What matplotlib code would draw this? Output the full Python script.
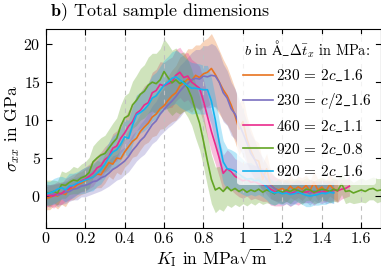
import numpy as np
import matplotlib
matplotlib.use("Agg")
import matplotlib.pyplot as plt
from matplotlib.ticker import FuncFormatter

plt.rcParams['font.family'] = ['cmr10', 'DejaVu Serif']
plt.rcParams['mathtext.fontset'] = 'cm'
plt.rcParams['axes.formatter.use_mathtext'] = True
plt.rcParams['axes.unicode_minus'] = False

# stress over K_I, mean and std per sample (step 0.02)
k_step = 0.02

labels = [r"$230\,=\,2c\_1.6$", r"$230\,=\,c/2\_1.6$", r"$460\,=\,2c\_1.1$",
          r"$920\,=\,2c\_0.8$", r"$920\,=\,2c\_1.6$"]
colors = ['#e8731f', '#7a6fc0', '#ea2a8c', '#63a524', '#14b2ee']

orange_mean = [-0.3, -0.2, 0.1, 0.0, 0.4, 0.2, 0.9, 1.0, 1.5, 1.7, 2.0,
               2.3, 2.5, 2.9, 2.8, 3.6, 4.4, 4.2, 5.0, 4.9, 5.8,
               6.5, 7.2, 7.6, 8.5, 9.1, 9.6, 10.4, 10.8, 11.5, 11.9,
               12.6, 13.2, 13.6, 14.5, 14.9, 15.4, 15.2, 15.9, 15.6, 16.1,
               16.3, 16.8, 16.0, 15.0, 14.0, 13.2, 12.0, 10.6, 8.8, 9.8,
               7.5, 6.0, 4.8, 4.6, 2.2, 3.6, 1.5, 1.0, 0.8, 1.0,
               0.6, 1.3, 0.8, 1.2, 0.9, 1.4, 0.7, 1.8, 0.8, 1.2, 0.6, 1.5, 0.9, 0.7]
orange_std = [1.5, 1.6, 1.4, 1.7, 1.5, 1.6, 1.4, 1.5, 1.6, 1.5, 1.6,
              1.7, 1.6, 1.8, 1.7, 1.9, 1.8, 2.0, 1.9, 2.1, 2.0,
              2.2, 2.1, 2.3, 2.4, 2.3, 2.5, 2.6, 2.8, 2.7, 3.0,
              3.2, 3.4, 3.6, 3.8, 3.7, 4.0, 4.2, 4.0, 4.3, 4.4,
              4.5, 4.6, 4.4, 4.2, 4.0, 3.8, 3.6, 3.5, 3.4, 3.2,
              3.0, 2.8, 2.6, 2.4, 2.2, 2.0, 1.8, 1.6, 1.5, 1.4,
              1.4, 1.5, 1.3, 1.4, 1.5, 1.4, 1.3, 1.5, 1.4, 1.3, 1.4, 1.5, 1.3, 1.4]

purple_mean = [0.2, 0.0, 0.3, 0.1, 0.3, 0.5, 0.6, 0.9, 1.0, 1.3, 1.4,
               1.6, 1.9, 2.0, 2.4, 2.6, 3.0, 3.5, 3.8, 4.2, 4.6,
               5.2, 6.0, 6.6, 7.3, 7.8, 8.6, 9.4, 9.9, 10.8, 11.4,
               12.0, 12.5, 13.1, 13.8, 14.4, 14.8, 15.3, 15.5, 15.4, 15.8,
               15.7, 15.9, 15.8, 15.0, 13.6, 12.9, 11.5, 10.8, 9.5, 8.3,
               7.0, 5.6, 4.8, 3.6, 3.0, 2.2, 1.4, 1.0, 0.6, 0.4,
               0.7, 0.3, 0.5, 0.8, 0.4, 0.6, 0.3, 0.7, 0.5, 0.8, 0.4, 0.6, 0.5]
purple_std = [1.4, 1.5, 1.3, 1.5, 1.4, 1.5, 1.3, 1.4, 1.5, 1.4, 1.5,
              1.5, 1.6, 1.5, 1.7, 1.6, 1.7, 1.8, 1.7, 1.9, 1.8,
              2.0, 2.1, 2.0, 2.2, 2.3, 2.4, 2.5, 2.6, 2.8, 2.9,
              3.0, 3.1, 3.2, 3.4, 3.3, 3.5, 3.6, 3.8, 3.9, 4.0,
              4.1, 4.2, 4.0, 3.9, 3.8, 3.6, 3.5, 3.3, 3.2, 3.0,
              2.8, 2.6, 2.5, 2.3, 2.1, 2.0, 1.8, 1.6, 1.5, 1.4,
              1.4, 1.3, 1.5, 1.4, 1.3, 1.4, 1.5, 1.3, 1.4, 1.3, 1.4, 1.5, 1.4]

pink_mean = [0.0, 0.1, 0.0, 0.4, 0.3, 0.8, 1.0, 1.4, 1.6, 2.0, 2.2,
             2.6, 3.0, 3.7, 4.0, 4.8, 5.2, 6.3, 6.6, 7.6, 8.3,
             9.2, 9.8, 10.9, 11.3, 12.0, 12.3, 13.6, 13.9, 14.7, 14.5,
             14.8, 15.0, 15.9, 16.3, 15.6, 15.8, 15.0, 14.6, 14.2, 12.5,
             10.5, 8.5, 6.8, 5.0, 3.0, 3.6, 3.2, 2.6, 2.3, 2.0,
             2.2, 1.8, 1.9, 1.6, 1.5, 1.3, 0.9, 0.6, 0.5, 0.4,
             0.6, 0.3, 0.5, 0.4, 0.6, 0.5, 0.7, 0.4, 0.6, 0.5, 0.7, 0.6,
             0.8, 0.7, 0.9, 1.0, 1.3]
pink_std = [1.5, 1.4, 1.6, 1.5, 1.4, 1.5, 1.6, 1.5, 1.4, 1.5, 1.6,
            1.6, 1.7, 1.6, 1.8, 1.7, 1.8, 1.9, 2.0, 1.9, 2.0,
            2.1, 2.2, 2.3, 2.4, 2.5, 2.6, 2.7, 2.8, 3.0, 3.1,
            3.2, 3.3, 3.4, 3.3, 3.2, 3.1, 3.0, 3.0, 2.9, 2.8,
            2.8, 2.7, 2.6, 2.5, 2.4, 2.5, 2.4, 2.3, 2.4, 2.3,
            2.2, 2.3, 2.2, 2.1, 2.2, 2.0, 2.1, 1.9, 1.8, 1.7,
            1.6, 1.7, 1.5, 1.6, 1.5, 1.4, 1.5, 1.6, 1.4, 1.5, 1.4, 1.3,
            1.4, 1.5, 1.3, 1.2, 1.3]

green_mean = [0.5, 0.4, 0.6, 0.4, 1.5, 1.4, 1.8, 2.1, 2.0, 2.4, 2.6,
              3.1, 4.5, 5.0, 5.4, 5.6, 6.3, 7.0, 7.6, 9.2, 10.3,
              10.6, 12.0, 12.6, 13.4, 13.8, 14.6, 15.0, 14.8, 15.3, 16.4,
              15.6, 14.9, 15.3, 14.8, 15.1, 14.2, 13.0, 11.2, 9.6, 7.2,
              4.6, 2.2, 0.8, 1.1, 0.6, 1.2, 0.7, 1.0, 0.6, 0.9,
              0.5, 0.8, 0.6, 0.9, 0.5, 0.8, 0.6, 0.3, 0.7, 0.5,
              0.8, 0.6, 0.9, 0.7, 0.5, 0.9, 0.8, 0.5, 0.7, 0.9, 0.8, 0.6,
              0.9, 0.7, 1.6, 0.6, 0.7, 0.4, 0.6, 0.8, 0.6, 0.9, 1.0, 0.7, 0.8]
green_std = [1.6, 1.7, 1.5, 1.6, 1.8, 1.7, 1.6, 1.8, 1.7, 1.8, 1.9,
             2.0, 2.1, 2.2, 2.3, 2.4, 2.5, 2.6, 2.7, 2.8, 2.9,
             3.0, 3.1, 3.3, 3.4, 3.5, 3.7, 3.8, 4.0, 4.1, 4.3,
             4.4, 4.3, 4.2, 4.0, 3.9, 3.8, 3.7, 3.6, 3.5, 3.4,
             3.3, 3.2, 3.0, 2.8, 2.6, 2.4, 2.2, 2.1, 2.0, 1.9,
             1.8, 1.7, 1.8, 1.7, 1.6, 1.7, 1.6, 1.5, 1.6, 1.5,
             1.5, 1.6, 1.4, 1.5, 1.6, 1.5, 1.4, 1.5, 1.6, 1.5, 1.4, 1.5,
             1.6, 1.5, 1.4, 1.6, 1.5, 1.4, 1.5, 1.6, 1.5, 1.4, 1.5, 1.6, 1.5]

cyan_mean = [0.3, 0.4, 0.6, 0.9, 1.1, 0.8, 1.3, 1.4, 1.7, 1.9, 2.1,
             2.3, 2.5, 3.0, 3.5, 4.2, 5.1, 5.8, 6.1, 6.8, 7.8,
             7.6, 9.3, 10.7, 11.0, 11.4, 12.0, 12.9, 13.2, 13.9, 14.6,
             15.0, 15.5, 15.7, 15.3, 14.9, 14.5, 14.2, 14.2, 14.1, 14.0,
             14.0, 12.5, 10.0, 7.0, 4.5, 3.6, 3.5, 3.3, 2.9, 2.5,
             2.2, 2.3, 2.0, 2.1, 1.7, 1.2, 0.6, 0.4, 0.5, 0.3,
             0.4, 0.2, 0.3, 0.5, 0.3, 0.1, 0.0, 0.1, 0.2, 0.4, 0.3, 0.5, 0.4]
cyan_std = [1.6, 1.5, 1.7, 1.6, 1.5, 1.6, 1.7, 1.6, 1.5, 1.6, 1.7,
            1.7, 1.8, 1.7, 1.9, 1.8, 2.0, 2.1, 2.2, 2.1, 2.3,
            2.4, 2.5, 2.6, 2.7, 2.8, 2.9, 3.0, 3.1, 3.2, 3.3,
            3.4, 3.5, 3.5, 3.6, 3.5, 3.4, 3.4, 3.3, 3.3, 3.2,
            3.2, 3.1, 3.0, 2.9, 2.8, 2.7, 2.6, 2.5, 2.4, 2.3,
            2.2, 2.1, 2.0, 1.9, 1.8, 1.7, 1.7, 1.6, 1.5, 1.5,
            1.4, 1.5, 1.4, 1.3, 1.4, 1.5, 1.4, 1.3, 1.4, 1.5, 1.4, 1.3, 1.4]

means = [orange_mean, purple_mean, pink_mean, green_mean, cyan_mean]
stds = [orange_std, purple_std, pink_std, green_std, cyan_std]

fig = plt.figure(figsize=(3.81, 2.71), dpi=100)
ax = fig.add_axes([0.12, 0.159, 0.88, 0.734])

for m, s, c, lab in zip(means, stds, colors, labels):
    m = np.array(m)
    s = np.array(s)
    k = np.arange(len(m)) * k_step
    ax.fill_between(k, m - s, m + s, color=c, alpha=0.3, lw=0)
    ax.plot(k, m, color=c, lw=1.2, label=lab)

ax.set_xlim(0, 1.7)
ax.set_ylim(-4.2, 22)
ax.set_xticks(np.arange(0, 1.7, 0.2))
ax.set_yticks([0, 5, 10, 15, 20])
ax.xaxis.set_major_formatter(FuncFormatter(lambda v, p: '%g' % round(v, 2)))
ax.xaxis.grid(True, color='#c0c0c0', ls=(0, (4, 4)), lw=0.8)
ax.tick_params(direction='in', top=True, right=True, length=4, width=0.8, labelsize=11.5)
ax.tick_params(axis='x', pad=3)

ax.set_xlabel(r"$K_\mathrm{I}$ in MPa$\sqrt{\mathrm{m}}$", fontsize=12.5, labelpad=0)
ax.set_ylabel(r"$\sigma_{xx}$ in GPa", fontsize=12.5, labelpad=1)
fig.text(0.13, 0.955, r"$\mathbf{b)}$ Total sample dimensions", fontsize=13,
         va='center', ha='left')

leg = ax.legend(title=r"$b$ in $\mathrm{\AA}\_\Delta\bar{t}_x$ in MPa:", loc='upper right',
                fontsize=11, title_fontsize=10.3, frameon=True, handlelength=2.0,
                borderaxespad=0.3, labelspacing=0.5, handletextpad=0.15,
                borderpad=0.35)
leg.get_frame().set_edgecolor('none')
leg.get_frame().set_facecolor('white')
leg.get_frame().set_alpha(0.8)

fig.savefig("out.png", dpi=100)
